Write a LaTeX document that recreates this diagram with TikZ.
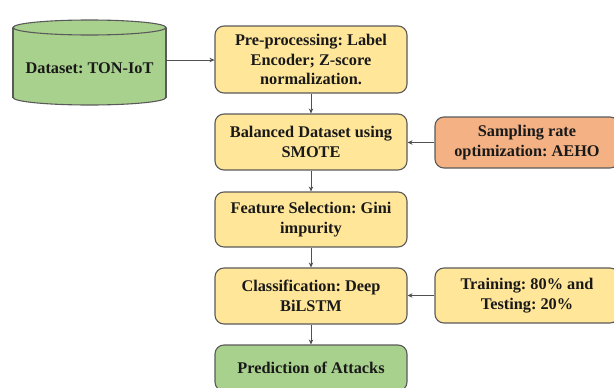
\documentclass[tikz,border=0pt]{standalone}
\usepackage{fontspec}
\setmainfont{Liberation Serif}
\usetikzlibrary{arrows.meta}
\definecolor{boxyellow}{HTML}{FFE699}
\definecolor{boxgreen}{HTML}{A9D18E}
\definecolor{boxorange}{HTML}{F4B183}
\definecolor{edgegray}{HTML}{5A5A5A}
\definecolor{arrowgray}{HTML}{505050}
\tikzset{
  lbl/.style={font=\fontsize{16.3}{19.5}\selectfont\bfseries\frenchspacing, text=black!90},
  stepbox/.style={lbl, draw=edgegray, line width=1.1pt, rounded corners=9pt, align=center, inner sep=0pt},
  ybox/.style={stepbox, fill=boxyellow},
  gbox/.style={stepbox, fill=boxgreen},
  obox/.style={stepbox, fill=boxorange},
  conn/.style={draw=arrowgray, line width=0.7pt, -{Stealth[length=5pt,width=4.5pt]}},
}
\begin{document}
\begin{tikzpicture}[x=1pt,y=-1pt]
\useasboundingbox (0,0) rectangle (614,388);
\clip (0,0) rectangle (614,388);
% cylinder
\fill[boxgreen] (13,27.5) rectangle (166,97.5);
\fill[boxgreen] (89.5,97.5) ellipse[x radius=76.5pt, y radius=7.5pt];
\begin{scope}
  \clip (0,97.5) rectangle (180,112);
  \draw[edgegray, line width=1.1pt] (89.5,97.5) ellipse[x radius=76.5pt, y radius=7.5pt];
\end{scope}
\draw[edgegray, line width=1.1pt] (13,27.5) -- (13,97.5);
\draw[edgegray, line width=1.1pt] (166,27.5) -- (166,97.5);
\draw[edgegray, line width=1.1pt, fill=boxgreen] (89.5,27.5) ellipse[x radius=76.5pt, y radius=7.5pt];
\node[lbl] (ds) at (89.5,68) {Dataset: TON-IoT};
\coordinate (dsR) at (166,60);

\node[ybox, minimum width=192pt, minimum height=67pt] (pre) at (311,59.5) {Pre-processing: Label\\Encoder; Z-score\\normalization.};
\node[ybox, minimum width=192pt, minimum height=56pt] (bal) at (311,142) {Balanced Dataset using\\SMOTE};
\node[ybox, minimum width=192pt, minimum height=55pt] (feat) at (311,219.5) {Feature Selection: Gini\\impurity};
\node[ybox, minimum width=192pt, minimum height=56pt] (cls) at (311,296) {Classification: Deep\\BiLSTM};
\node[gbox, minimum width=192pt, minimum height=46pt] (pred) at (311,368) {Prediction of Attacks};
\node[obox, minimum width=184pt, minimum height=51pt] (samp) at (527,142.5) {Sampling rate\\optimization: AEHO};
\node[ybox, minimum width=184pt, minimum height=55pt] (train) at (527,295.5) {Training: 80\% and\\Testing: 20\%};

\draw[conn] (dsR) -- (dsR -| pre.west);
\draw[conn] (pre) -- (bal);
\draw[conn] (bal) -- (feat);
\draw[conn] (feat) -- (cls);
\draw[conn] (cls) -- (pred);
\draw[conn] (samp.west) -- (samp.west -| bal.east);
\draw[conn] (train.west) -- (train.west -| cls.east);
\end{tikzpicture}
\end{document}
